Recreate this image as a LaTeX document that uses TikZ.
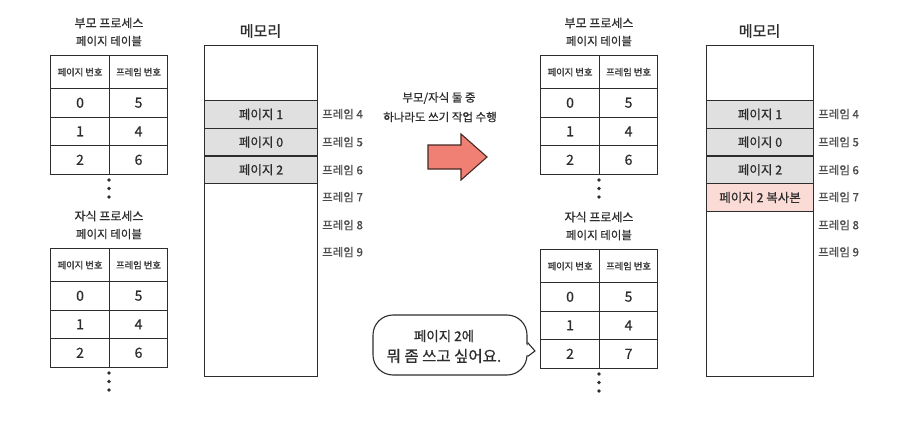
\documentclass[tikz,border=0pt]{standalone}
\usepackage{fontspec}
\setmainfont{Noto Sans CJK KR}[FakeBold=0.6]
\usetikzlibrary{calc}
\definecolor{ink}{RGB}{45,45,45}
\definecolor{cellgray}{RGB}{224,224,224}
\definecolor{copypink}{RGB}{251,219,214}
\definecolor{arrowred}{RGB}{240,128,115}
\definecolor{arrowedge}{RGB}{70,40,35}
\definecolor{labelgray}{RGB}{75,75,75}
\newcommand\fs[1]{\fontsize{#1}{#1}\selectfont}
% page table: prefix, x, y(top), title line 1, v1, v2, v3
\newcommand\ptab[7]{%
  \node[ttl,font=\fs{12}] (#1-t1) at (#2+59,#3-32) {#4};
  \node[ttl,font=\fs{11.5}] (#1-t2) at (#2+59,#3-14) {페이지 테이블};
  \node[hcell,minimum width=59] (#1-h1) at (#2,#3) {페이지 번호};
  \node[hcell,minimum width=58] (#1-h2) at (#2+59,#3) {프레임 번호};
  \node[vcell,minimum width=59] (#1-a1) at (#2,#3+33) {0};
  \node[vcell,minimum width=58] (#1-b1) at (#2+59,#3+33) {#5};
  \node[vcell,minimum width=59] (#1-a2) at (#2,#3+61.5) {1};
  \node[vcell,minimum width=58] (#1-b2) at (#2+59,#3+61.5) {#6};
  \node[vcell,minimum width=59] (#1-a3) at (#2,#3+90) {2};
  \node[vcell,minimum width=58] (#1-b3) at (#2+59,#3+90) {#7};
  \node[dot] (#1-d1) at (#2+59,#3+125) {};
  \node[dot] (#1-d2) at (#2+59,#3+133.5) {};
  \node[dot] (#1-d3) at (#2+59,#3+142) {};
}
% memory: prefix, x, width
\newcommand\memory[3]{%
  \node[ttl,font=\fs{15}] (#1-title) at (#2+#3/2,31) {메모리};
  \node[draw=ink,line width=1.1pt,minimum width=#3,minimum height=331,anchor=north west,inner sep=0] (#1-box) at (#2,45) {};
  \node[memrow,minimum width=#3] (#1-r4) at (#2,100) {페이지 1};
  \node[memrow,minimum width=#3] (#1-r5) at (#2,127.7) {페이지 0};
  \node[memrow,minimum width=#3] (#1-r6) at (#2,155.4) {페이지 2};
  \node[flabel] (#1-f4) at (#2+#3+5,114) {프레임 4};
  \node[flabel] (#1-f5) at (#2+#3+5,142) {프레임 5};
  \node[flabel] (#1-f6) at (#2+#3+5,170) {프레임 6};
  \node[flabel] (#1-f7) at (#2+#3+5,197) {프레임 7};
  \node[flabel] (#1-f8) at (#2+#3+5,225) {프레임 8};
  \node[flabel] (#1-f9) at (#2+#3+5,252) {프레임 9};
}
\begin{document}
\begin{tikzpicture}[x=1pt,y=-1pt,color=ink,
  ttl/.style={text=ink,font=\fs{10.5},inner sep=0},
  hcell/.style={draw=ink,line width=1.1pt,rectangle,minimum height=33,inner sep=0,anchor=north west,font=\fs{9.3}},
  vcell/.style={draw=ink,line width=1.1pt,rectangle,minimum height=28.5,inner sep=0,anchor=north west,font=\fs{14}},
  dot/.style={circle,fill=ink,inner sep=0,minimum size=3.8},
  memrow/.style={draw=ink,fill=cellgray,line width=1.1pt,rectangle,minimum height=27.7,inner sep=0,anchor=north west,font=\fs{12.5}},
  flabel/.style={anchor=west,inner sep=0,text=labelgray,font=\fs{11.5}},
  bubble/.style={draw=ink,fill=white,line width=1.1pt,rounded corners=20,rectangle,minimum width=154,minimum height=60,inner sep=0}]
\useasboundingbox[fill=white] (0,0) rectangle (916,428);

% left side
\ptab{pp}{50}{55}{부모 프로세스}{5}{4}{6}
\ptab{cp}{50}{248}{자식 프로세스}{5}{4}{6}
\memory{ma}{204}{113}

% transition arrow
\node[ttl,font=\fs{11.5}] (note1) at (439,98) {부모/자식 둘 중};
\node[ttl,font=\fs{11.5}] (note2) at (440,117) {하나라도 쓰기 작업 수행};
\draw[fill=arrowred,draw=arrowedge,line width=1.1pt,line join=miter]
  (428,145) -- (461,145) -- (461,134) -- (487,157) -- (461,180) -- (461,169) -- (428,169) -- cycle;

% right side
\ptab{pr}{540}{55}{부모 프로세스}{5}{4}{6}
\ptab{cr}{540}{249}{자식 프로세스}{5}{4}{7}
\memory{mb}{706}{107}
\node[memrow,fill=copypink,minimum width=107] (mb-r7) at (706,183.1) {페이지 2 복사본};

% speech bubble
\node[bubble] (bub) at (450,345) {};
\fill[white] (523,342) -- (535,351) -- (523,357) -- cycle;
\draw[line width=1.1pt,line join=round] (bub.east |- 0,342.5) -- (535,351) -- (bub.east |- 0,356.5);
\node[ttl,font=\fs{13.5}] (bt1) at (444,336) {페이지 2에};
\node[ttl,font=\fs{15.5}] (bt2) at (444,356) {뭐 좀 쓰고 싶어요.};
\end{tikzpicture}
\end{document}
